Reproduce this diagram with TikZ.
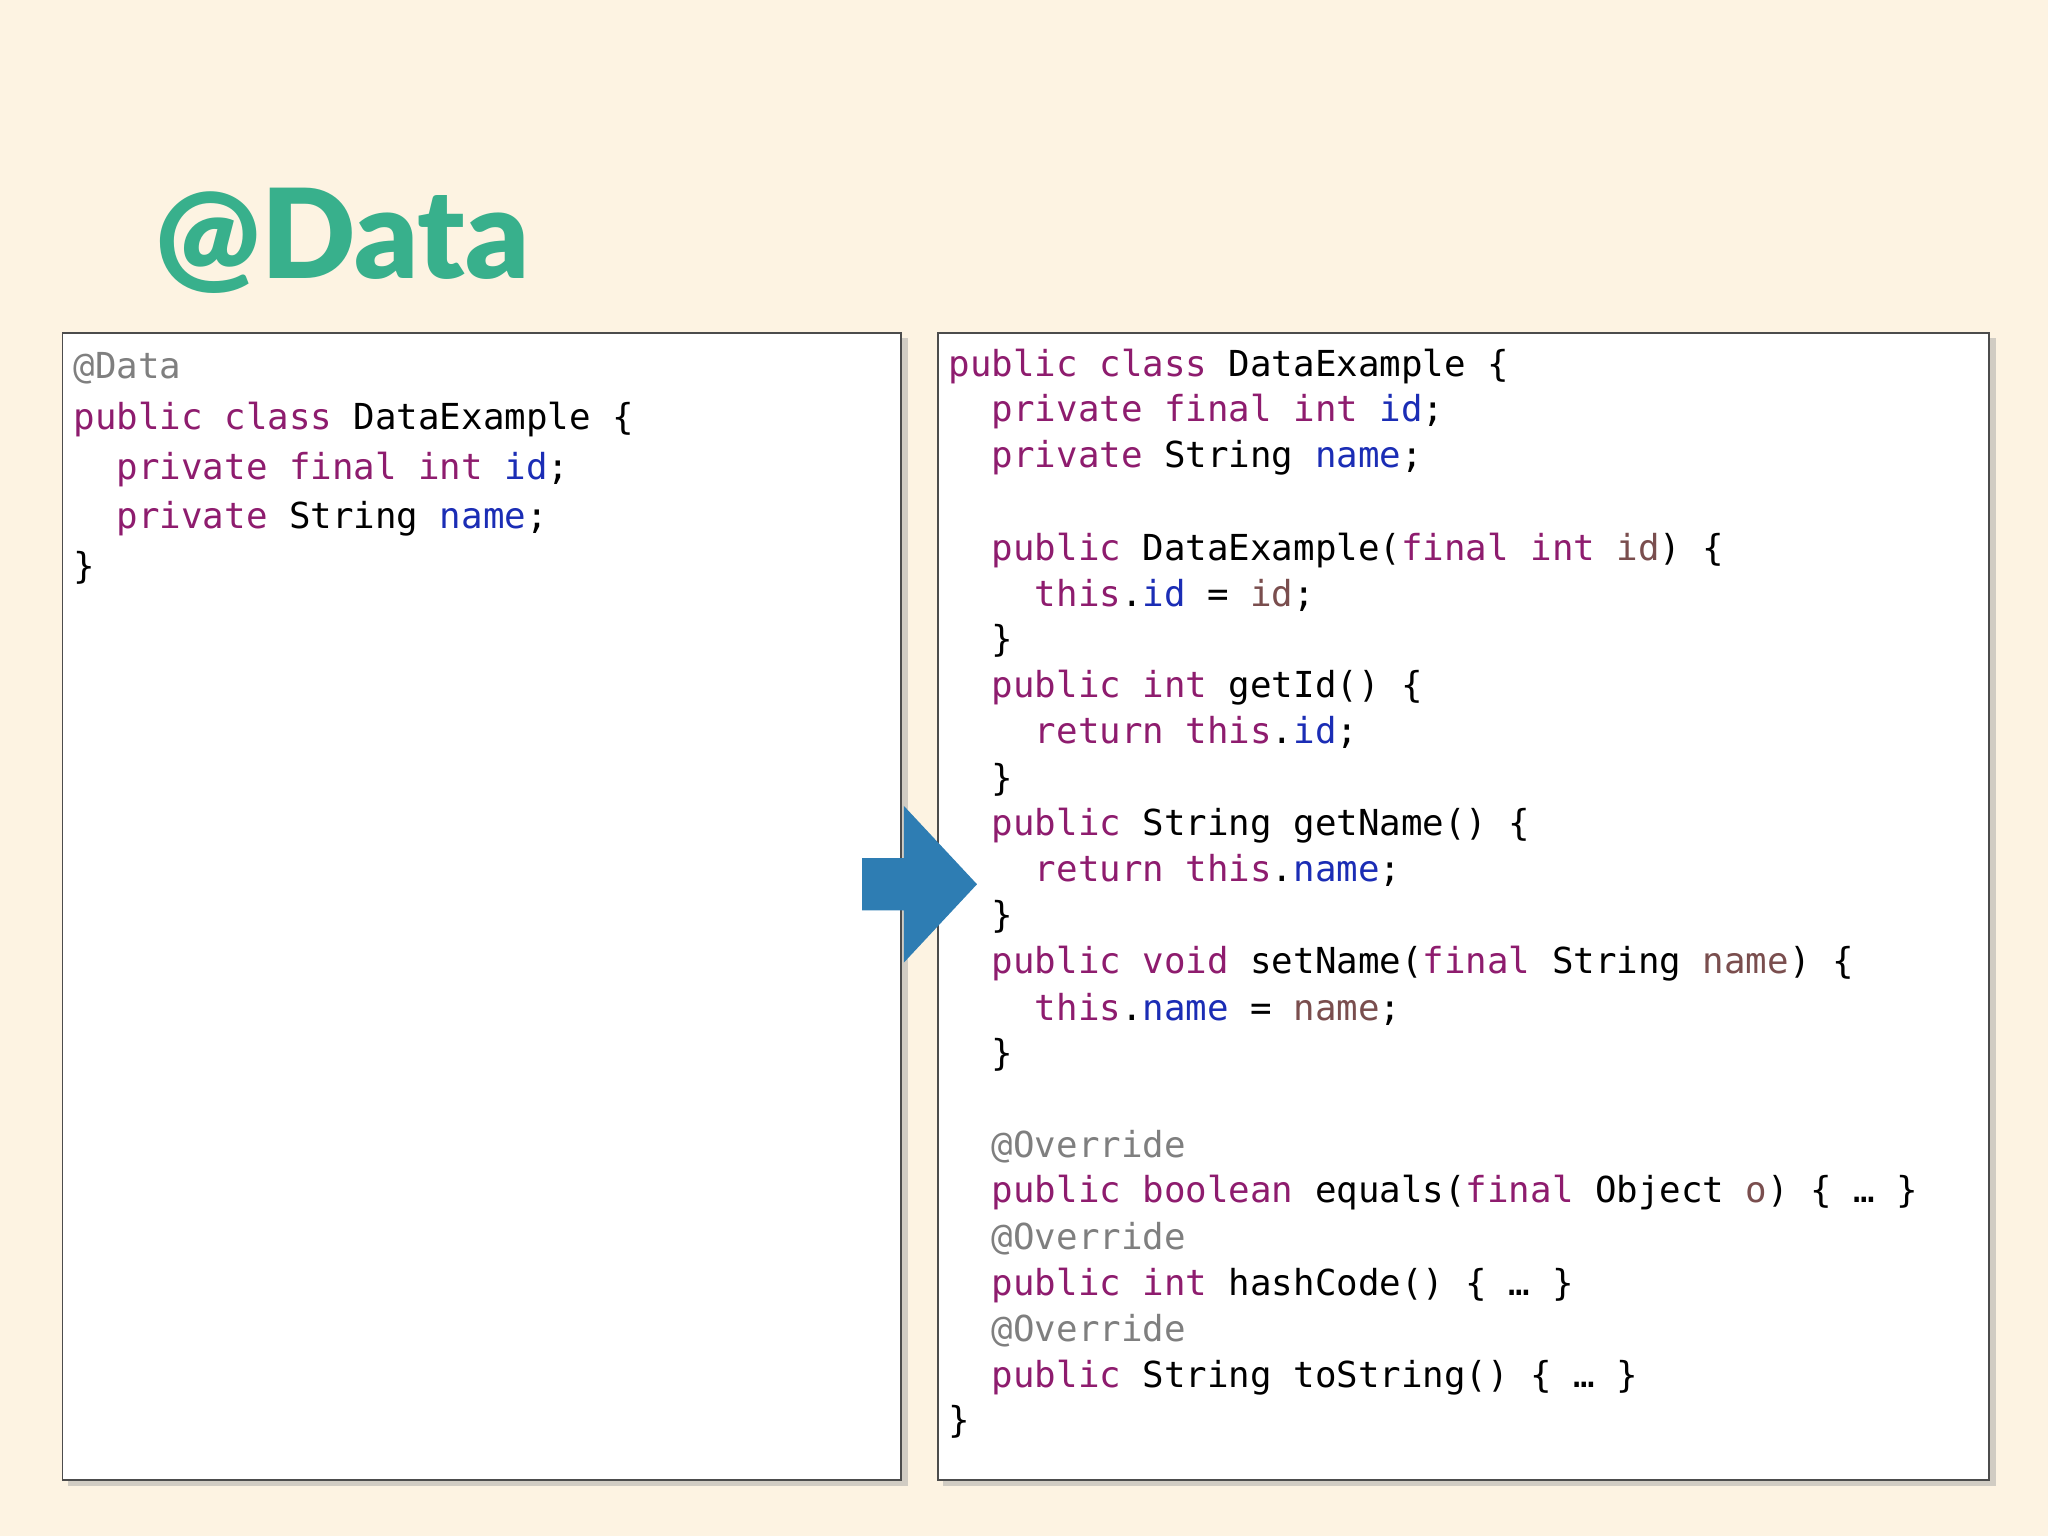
\documentclass[tikz,border=0pt]{standalone}
\usepackage{fontspec}
\setmainfont{Lato}
\newfontfamily\codefont{DejaVu Sans Mono}
\newfontfamily\titlefont{Lato Black}
\definecolor{bg}{HTML}{FDF3E2}
\definecolor{teal}{HTML}{38B08C}
\definecolor{kwc}{HTML}{8E1C6E}
\definecolor{fdc}{HTML}{1B2DB5}
\definecolor{pac}{HTML}{7A4E4E}
\definecolor{anc}{HTML}{7F7F7F}
\definecolor{arr}{HTML}{2E7DB3}
\newcommand{\kw}[1]{\textcolor{kwc}{#1}}
\newcommand{\fd}[1]{\textcolor{fdc}{#1}}
\newcommand{\pa}[1]{\textcolor{pac}{#1}}
\newcommand{\an}[1]{\textcolor{anc}{#1}}
\begin{document}
\begin{tikzpicture}[x=0.5pt,y=-0.5pt,
  code/.style={anchor=base west,inner sep=0pt,font=\codefont\fontsize{13.7pt}{16pt}\selectfont},
  panel/.style={draw=black!70,line width=0.6pt,fill=white},
  shadow/.style={fill=black!35,opacity=0.5}]
\useasboundingbox[fill=bg] (0,0) rectangle (1568,1176);
\node[anchor=base west,inner sep=0pt,text=teal,font=\titlefont\fontsize{47.5pt}{50pt}\selectfont] (title) at (119,213) {@Data};
% panels
\fill[shadow] (52,259) rectangle (695,1138);
\fill[shadow] (722,259) rectangle (1528,1138);
\draw[panel] (48,255) rectangle (690,1133);
\draw[panel] (718,255) rectangle (1523,1133);
% left code
\node[code] (l0) at (56,290) {\an{@Data}};
\node[code] (l1) at (56,329) {\kw{public class} DataExample \{};
\node[code] (l2) at (89,367) {\kw{private final int} \fd{id};};
\node[code] (l3) at (89,405) {\kw{private} String \fd{name};};
\node[code] (l4) at (56,443) {\}};
% right code
\def\a{726}\def\b{759}\def\c{792}
\node[code] (r0) at (\a,288) {\kw{public class} DataExample \{};
\node[code] (r1) at (\b,323) {\kw{private final int} \fd{id};};
\node[code] (r2) at (\b,358) {\kw{private} String \fd{name};};
\node[code] (r4) at (\b,429) {\kw{public} DataExample(\kw{final int} \pa{id}) \{};
\node[code] (r5) at (\c,464) {\kw{this}.\fd{id} = \pa{id};};
\node[code] (r6) at (\b,499) {\}};
\node[code] (r7) at (\b,534) {\kw{public int} getId() \{};
\node[code] (r8) at (\c,569) {\kw{return this}.\fd{id};};
\node[code] (r9) at (\b,605) {\}};
\node[code] (r10) at (\b,640) {\kw{public} String getName() \{};
\node[code] (r11) at (\c,675) {\kw{return this}.\fd{name};};
\node[code] (r12) at (\b,710) {\}};
\node[code] (r13) at (\b,745) {\kw{public void} setName(\kw{final} String \pa{name}) \{};
\node[code] (r14) at (\c,781) {\kw{this}.\fd{name} = \pa{name};};
\node[code] (r15) at (\b,816) {\}};
\node[code] (r17) at (\b,886) {\an{@Override}};
\node[code] (r18) at (\b,921) {\kw{public boolean} equals(\kw{final} Object \pa{o}) \{ … \}};
\node[code] (r19) at (\b,957) {\an{@Override}};
\node[code] (r20) at (\b,992) {\kw{public int} hashCode() \{ … \}};
\node[code] (r21) at (\b,1027) {\an{@Override}};
\node[code] (r22) at (\b,1062) {\kw{public} String toString() \{ … \}};
\node[code] (r23) at (\a,1097) {\}};
% arrow
\fill[arr] (660,657) -- (692,657) -- (692,617) -- (748,677) -- (692,737) -- (692,697) -- (660,697) -- cycle;
\end{tikzpicture}
\end{document}
